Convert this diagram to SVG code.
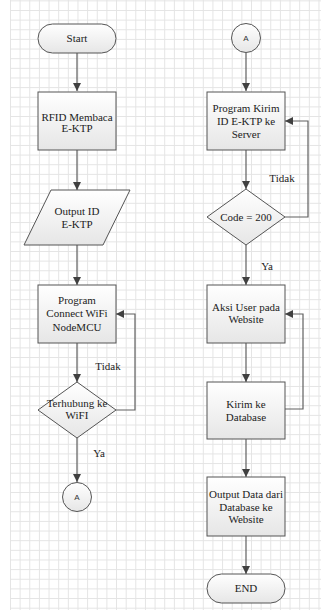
<svg xmlns="http://www.w3.org/2000/svg" width="321" height="610" viewBox="0 0 321 610">
<defs>
<pattern id="grid" patternUnits="userSpaceOnUse" x="10" y="10" width="9.64" height="9.64">
<path d="M0 0.5H9.64M0.5 0V9.64" fill="none" stroke="#e4e4e4" stroke-width="1"/>
</pattern>
<linearGradient id="fill" x1="0" y1="0" x2="0" y2="1">
<stop offset="0" stop-color="#ffffff"/>
<stop offset="1" stop-color="#e6e6e6"/>
</linearGradient>
<marker id="arr" markerUnits="userSpaceOnUse" markerWidth="8" markerHeight="8" viewBox="0 0 8 8" refX="8" refY="4" orient="auto">
<path d="M0 0L8 4L0 8Z" fill="#404040"/>
</marker>
</defs>
<style>
.shape{fill:url(#fill);stroke:#555555;stroke-width:1}
.lbl{font-family:"Liberation Serif","Times New Roman",serif;font-size:11px;fill:#222222;text-anchor:middle}
.sm{font-family:"Liberation Sans",Arial,sans-serif;font-size:8px;fill:#333333;text-anchor:middle}
.con{fill:none;stroke:#606060;stroke-width:1.2}
</style>
<rect x="0" y="0" width="321" height="610" fill="#ffffff"/>
<rect x="10" y="0" width="311" height="610" fill="url(#grid)"/>

<g id="connectors">
<path class="con" d="M77 53V91" marker-end="url(#arr)"/>
<path class="con" d="M77 150V190" marker-end="url(#arr)"/>
<path class="con" d="M77 245V285" marker-end="url(#arr)"/>
<path class="con" d="M77 343V382" marker-end="url(#arr)"/>
<path class="con" d="M77 438V482" marker-end="url(#arr)"/>
<path class="con" d="M116 410H135V314H116" marker-end="url(#arr)"/>
<path class="con" d="M246 53V91" marker-end="url(#arr)"/>
<path class="con" d="M246 150V189" marker-end="url(#arr)"/>
<path class="con" d="M246 245V285" marker-end="url(#arr)"/>
<path class="con" d="M246 343V382" marker-end="url(#arr)"/>
<path class="con" d="M246 439V477" marker-end="url(#arr)"/>
<path class="con" d="M246 536V574" marker-end="url(#arr)"/>
<path class="con" d="M285 217H308V121H285" marker-end="url(#arr)"/>
<path class="con" d="M285 409H303V314H285" marker-end="url(#arr)"/>
<text class="lbl" x="108" y="370">Tidak</text>
<text class="lbl" x="99" y="457">Ya</text>
<text class="lbl" x="282" y="182">Tidak</text>
<text class="lbl" x="267" y="270">Ya</text>
</g>

<g id="start">
<rect class="shape" x="38" y="24" width="78" height="29" rx="14.5"/>
<text class="lbl" x="77" y="42">Start</text>
</g>
<g id="rfid">
<rect class="shape" x="38" y="92" width="78" height="58"/>
<text class="lbl" x="77" y="120.5">RFID Membaca</text>
<text class="lbl" x="77" y="132">E-KTP</text>
</g>
<g id="output-id">
<path class="shape" d="M51 190H130L103 245H24Z"/>
<text class="lbl" x="77" y="214.5">Output ID</text>
<text class="lbl" x="77" y="228">E-KTP</text>
</g>
<g id="connect-wifi">
<rect class="shape" x="38" y="285" width="78" height="58"/>
<text class="lbl" x="77" y="304">Program</text>
<text class="lbl" x="77" y="317">Connect WiFi</text>
<text class="lbl" x="77" y="330.5">NodeMCU</text>
</g>
<g id="terhubung">
<path class="shape" d="M77 382L116 410L77 438L38 410Z"/>
<text class="lbl" x="77" y="407">Terhubung ke</text>
<text class="lbl" x="77" y="419">WiFI</text>
</g>
<g id="a-left">
<circle class="shape" cx="77" cy="497" r="14.5"/>
<text class="sm" x="77" y="500">A</text>
</g>
<g id="a-right">
<circle class="shape" cx="246" cy="38" r="14.5"/>
<text class="sm" x="246" y="41">A</text>
</g>
<g id="kirim-id">
<rect class="shape" x="207" y="92" width="78" height="58"/>
<text class="lbl" x="246" y="112">Program Kirim</text>
<text class="lbl" x="246" y="124.5">ID E-KTP ke</text>
<text class="lbl" x="246" y="138">Server</text>
</g>
<g id="code-200">
<path class="shape" d="M246 189L285 217L246 245L207 217Z"/>
<text class="lbl" x="246" y="220.5">Code = 200</text>
</g>
<g id="aksi-user">
<rect class="shape" x="207" y="285" width="78" height="58"/>
<text class="lbl" x="246" y="311">Aksi User pada</text>
<text class="lbl" x="246" y="323">Website</text>
</g>
<g id="kirim-db">
<rect class="shape" x="207" y="382" width="78" height="57"/>
<text class="lbl" x="246" y="408">Kirim ke</text>
<text class="lbl" x="246" y="420.5">Database</text>
</g>
<g id="output-data">
<rect class="shape" x="207" y="477" width="78" height="59"/>
<text class="lbl" x="246" y="498">Output Data dari</text>
<text class="lbl" x="246" y="510.5">Database ke</text>
<text class="lbl" x="246" y="523">Website</text>
</g>
<g id="end">
<rect class="shape" x="207" y="574" width="78" height="29" rx="14.5"/>
<text class="lbl" x="246" y="591.5">END</text>
</g>
</svg>
